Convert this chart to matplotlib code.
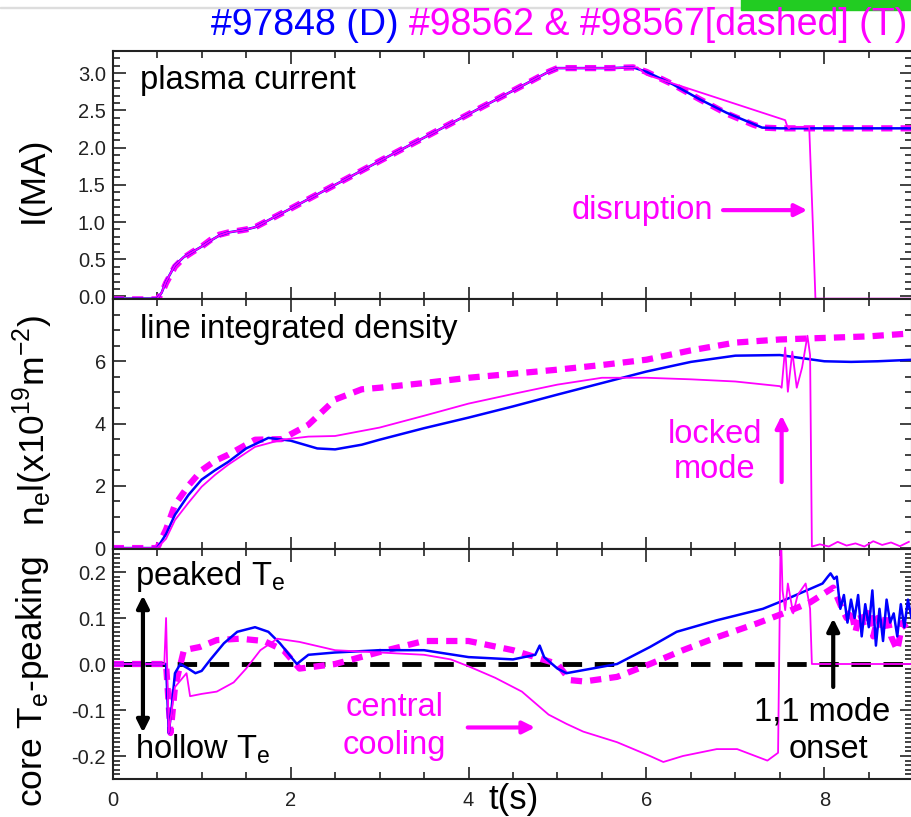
import matplotlib
matplotlib.use('Agg')
import matplotlib.pyplot as plt
from matplotlib.ticker import MultipleLocator
from matplotlib.patches import Rectangle

plt.rcParams['font.family'] = ['Liberation Sans', 'DejaVu Sans']

BLUE = '#0000ff'
MAG = '#ff00ff'

# ---- plasma current I(MA) ----
t_I_D = [0, 0.5, 0.55, 0.6, 0.7, 0.8, 0.9, 1.0, 1.1, 1.2, 1.3, 1.4, 1.5, 1.6, 2.0, 3.0, 4.0,
         4.9, 5.0, 5.3, 5.6, 5.85, 6.0, 6.3, 6.6, 6.9, 7.2, 7.3, 7.5, 8.0, 8.5, 9.0]
I_D = [-0.03, -0.03, 0.05, 0.2, 0.42, 0.53, 0.6, 0.67, 0.75, 0.82, 0.86, 0.88, 0.9, 0.93, 1.18,
       1.82, 2.45, 3.02, 3.07, 3.07, 3.07, 3.08, 3.02, 2.85, 2.65, 2.47, 2.32, 2.27, 2.26, 2.26,
       2.26, 2.26]
t_I_T1 = [0, 0.5, 0.55, 0.6, 0.7, 0.8, 0.9, 1.0, 1.1, 1.2, 1.3, 1.4, 1.5, 1.6, 2.0, 3.0, 4.0,
          4.9, 5.0, 5.3, 5.6, 5.9, 6.0, 7.56, 7.58, 7.6, 7.62, 7.83, 7.87, 7.9, 8.5, 9.0]
I_T1 = [-0.03, -0.03, 0.05, 0.2, 0.42, 0.53, 0.6, 0.67, 0.75, 0.82, 0.86, 0.88, 0.9, 0.93, 1.18,
        1.82, 2.45, 3.02, 3.07, 3.07, 3.07, 3.08, 2.98, 2.37, 2.3, 2.26, 2.28, 2.28, 1.0, -0.03,
        -0.03, -0.03]
t_I_T2 = [0, 0.5, 0.55, 0.6, 0.7, 0.8, 0.9, 1.0, 1.1, 1.2, 1.3, 1.4, 1.5, 1.6, 2.0, 3.0, 4.0,
          4.9, 5.0, 5.3, 5.6, 5.85, 6.0, 6.3, 6.6, 6.9, 7.2, 7.3, 7.5, 8.0, 8.5, 9.0]
I_T2 = [-0.04, -0.04, 0.04, 0.18, 0.4, 0.52, 0.6, 0.67, 0.76, 0.83, 0.86, 0.88, 0.9, 0.93, 1.18,
        1.82, 2.45, 3.02, 3.07, 3.07, 3.07, 3.08, 3.02, 2.85, 2.65, 2.46, 2.31, 2.27, 2.26, 2.26,
        2.26, 2.26]

# ---- line integrated density (1e19 m^-2) ----
t_n_D = [0, 0.5, 0.6, 0.7, 0.85, 1.0, 1.15, 1.3, 1.5, 1.75, 2.0, 2.3, 2.5, 2.8, 3.0, 3.5, 4.0,
         4.5, 5.0, 5.5, 6.0, 6.5, 7.0, 7.5, 7.8, 8.0, 8.3, 8.6, 9.0]
n_D = [0, 0, 0.45, 1.07, 1.7, 2.2, 2.5, 2.77, 3.2, 3.54, 3.45, 3.2, 3.17, 3.32, 3.48, 3.85, 4.19,
       4.55, 4.93, 5.3, 5.67, 5.98, 6.18, 6.2, 6.08, 6.0, 5.98, 6.0, 6.05]
t_n_T1 = [0, 0.5, 0.6, 0.7, 0.85, 1.0, 1.15, 1.3, 1.6, 1.9, 2.2, 2.5, 3.0, 3.5, 4.0, 4.5, 5.0,
          5.5, 6.0, 6.5, 7.0, 7.5, 7.52, 7.56, 7.59, 7.64, 7.69, 7.75, 7.81, 7.84, 7.86, 7.95,
          8.05, 8.15, 8.25, 8.35, 8.45, 8.55, 8.65, 8.75, 8.85, 8.95]
n_T1 = [0, 0, 0.3, 0.9, 1.45, 1.97, 2.35, 2.68, 3.25, 3.48, 3.58, 3.6, 3.87, 4.25, 4.64, 4.95,
        5.25, 5.47, 5.47, 5.42, 5.35, 5.2, 5.15, 6.44, 5.02, 6.31, 5.15, 5.8, 6.82, 6.2, 0.05,
        0.12, 0.05, 0.2, 0.08, 0.15, 0.05, 0.22, 0.1, 0.18, 0.06, 0.2]
t_n_T2 = [0, 0.5, 0.6, 0.7, 0.85, 1.0, 1.15, 1.3, 1.6, 1.9, 2.2, 2.5, 2.8, 3.0, 3.5, 4.0, 4.5,
          5.0, 5.5, 6.0, 6.5, 7.0, 7.5, 8.0, 8.5, 9.0]
n_T2 = [0, 0, 0.6, 1.39, 2.0, 2.5, 2.8, 3.0, 3.48, 3.5, 3.96, 4.77, 5.1, 5.15, 5.3, 5.47, 5.6,
        5.73, 5.88, 6.05, 6.35, 6.6, 6.7, 6.75, 6.8, 6.9]

# ---- core Te peaking ----
t_p_D = [0, 0.6, 0.63, 0.66, 0.7, 0.76, 0.85, 0.93, 1.0, 1.1, 1.25, 1.4, 1.6, 1.75, 1.88, 2.07,
         2.2, 2.5, 3.0, 3.5, 4.0, 4.5, 4.75, 4.8, 4.85, 5.0, 5.1, 5.3, 5.67, 6.04, 6.34, 6.79,
         7.31, 7.54, 7.98, 8.04, 8.07, 8.11, 8.14, 8.18, 8.22, 8.26, 8.3, 8.34, 8.38, 8.42, 8.46,
         8.5, 8.54, 8.58, 8.62, 8.66, 8.7, 8.74, 8.78, 8.82, 8.86, 8.9, 8.94, 8.98]
p_D = [0, 0, -0.15, -0.1, -0.02, 0.0, -0.01, -0.02, -0.015, 0.01, 0.045, 0.07, 0.08, 0.07, 0.045,
       0.0, 0.02, 0.025, 0.03, 0.03, 0.015, 0.01, 0.02, 0.04, 0.015, -0.01, -0.02, -0.013, 0.0,
       0.037, 0.07, 0.095, 0.12, 0.138, 0.175, 0.19, 0.197, 0.185, 0.19, 0.12, 0.15, 0.09, 0.14,
       0.1, 0.15, 0.06, 0.13, 0.08, 0.16, 0.04, 0.12, 0.05, 0.14, 0.09, 0.11, 0.06, 0.13, 0.08,
       0.14, 0.1]
t_p_T1 = [0, 0.58, 0.6, 0.63, 0.7, 0.83, 0.87, 1.0, 1.17, 1.36, 1.5, 1.66, 1.85, 2.1, 2.5, 3.0,
          3.5, 3.8, 4.0, 4.3, 4.6, 4.9, 5.1, 5.29, 5.67, 6.04, 6.19, 6.41, 6.79, 7.02, 7.36, 7.48,
          7.51, 7.53, 7.56, 7.59, 7.65, 7.7, 7.79, 7.84, 7.86, 8.5, 9.0]
p_T1 = [0, 0, 0.1, -0.15, -0.05, -0.02, -0.07, -0.065, -0.06, -0.04, -0.01, 0.03, 0.055, 0.048,
        0.03, 0.025, 0.02, 0.01, -0.005, -0.03, -0.06, -0.11, -0.13, -0.147, -0.17, -0.2, -0.213,
        -0.2, -0.185, -0.185, -0.21, -0.193, 0.3, 0.16, 0.117, 0.175, 0.11, 0.15, 0.175, 0.12,
        0.0, 0.0, 0.0]
t_p_T2 = [0, 0.6, 0.65, 0.7, 0.8, 0.98, 1.17, 1.43, 1.7, 1.92, 2.1, 2.5, 3.0, 3.5, 4.0, 4.5,
          5.0, 5.14, 5.3, 5.67, 6.04, 6.41, 6.79, 7.24, 7.54, 7.84, 8.1, 8.2, 8.25, 8.3, 8.35,
          8.4, 8.45, 8.5, 8.55, 8.6, 8.65, 8.7, 8.75, 8.82, 8.88, 8.95]
p_T2 = [0, 0, -0.15, -0.05, 0.03, 0.037, 0.052, 0.055, 0.05, 0.03, -0.01, 0.0, 0.026, 0.05,
        0.05, 0.03, 0.0, -0.035, -0.038, -0.028, 0.0, 0.03, 0.058, 0.088, 0.11, 0.134, 0.166,
        0.12, 0.1, 0.12, 0.07, 0.11, 0.08, 0.12, 0.06, 0.1, 0.07, 0.11, 0.06, 0.03, 0.09, 0.07]

fig = plt.figure(figsize=(9.12, 8.17), dpi=100)
L, R = 112.7 / 912, 911.5 / 912
W = R - L
def frac(py):
    return 1 - py / 817
ax1 = fig.add_axes([L, frac(299), W, frac(51) - frac(299)])
ax2 = fig.add_axes([L, frac(549), W, frac(299) - frac(549)])
ax3 = fig.add_axes([L, frac(779), W, frac(549) - frac(779)])

for ax in (ax1, ax2, ax3):
    ax.set_xlim(0, 8.98)
    ax.xaxis.set_major_locator(MultipleLocator(2))
    ax.xaxis.set_minor_locator(MultipleLocator(0.5))
    ax.tick_params(which='both', direction='in', top=True, right=True, labelsize=14.5,
                   width=1.2, colors='#222222')
    ax.tick_params(which='major', length=9)
    ax.tick_params(which='minor', length=5)
    ax.tick_params(axis='y', pad=5)
    for s in ax.spines.values():
        s.set_linewidth(1.5)
        s.set_color('#222222')
for ax in (ax1, ax2):
    ax.tick_params(labelbottom=False)
ax3.tick_params(axis='x', pad=9)

dash_thick = (0, (1.8, 1.3))
TXT = 23.5

# top panel
ax1.plot(t_I_T2, I_T2, color=MAG, lw=4.5, ls=dash_thick)
ax1.plot(t_I_D, I_D, color=BLUE, lw=1.8)
ax1.plot(t_I_T1, I_T1, color=MAG, lw=1.3)
ax1.set_ylim(-0.035, 3.3)
ax1.yaxis.set_major_locator(MultipleLocator(0.5))
ax1.yaxis.set_minor_locator(MultipleLocator(0.1))
ax1.yaxis.set_major_formatter(lambda v, p: f'{v:.1f}')
ax1.text(0.31, 2.91, 'plasma current', fontsize=TXT, va='center')
ax1.text(5.95, 1.16, 'disruption', fontsize=TXT, color=MAG, va='center', ha='center')
ax1.annotate('', xy=(7.84, 1.16), xytext=(6.83, 1.16),
             arrowprops=dict(arrowstyle='-|>', color=MAG, lw=3, mutation_scale=18))

# middle panel
ax2.plot(t_n_T2, n_T2, color=MAG, lw=4.5, ls=dash_thick)
ax2.plot(t_n_D, n_D, color=BLUE, lw=1.8)
ax2.plot(t_n_T1, n_T1, color=MAG, lw=1.3)
ax2.set_ylim(-0.03, 8.0)
ax2.yaxis.set_major_locator(MultipleLocator(2))
ax2.yaxis.set_minor_locator(MultipleLocator(0.5))
ax2.set_yticks([0, 2, 4, 6])
ax2.text(0.31, 7.02, 'line integrated density', fontsize=TXT, va='center')
ax2.text(6.77, 3.64, 'locked', fontsize=TXT, color=MAG, va='center', ha='center')
ax2.text(6.77, 2.51, 'mode', fontsize=TXT, color=MAG, va='center', ha='center')
ax2.annotate('', xy=(7.52, 4.35), xytext=(7.52, 2.03),
             arrowprops=dict(arrowstyle='-|>', color=MAG, lw=3, mutation_scale=18))

# bottom panel
ax3.axhline(0, color='black', lw=3.5, ls=(0, (4, 2.6)), zorder=1)
ax3.plot(t_p_T2, p_T2, color=MAG, lw=4.5, ls=dash_thick)
ax3.plot(t_p_D, p_D, color=BLUE, lw=1.8)
ax3.plot(t_p_T1, p_T1, color=MAG, lw=1.3)
ax3.set_ylim(-0.25, 0.25)
ax3.yaxis.set_major_locator(MultipleLocator(0.1))
ax3.yaxis.set_minor_locator(MultipleLocator(0.01))
ax3.yaxis.set_major_formatter(lambda v, p: f'{v:.1f}'.replace('-0.0', '0.0'))
ax3.text(0.25, 0.19, 'peaked T$_\\mathregular{e}$', fontsize=TXT, va='center')
ax3.text(0.25, -0.186, 'hollow T$_\\mathregular{e}$', fontsize=TXT, va='center')
ax3.annotate('', xy=(0.34, 0.155), xytext=(0.34, -0.155),
             arrowprops=dict(arrowstyle='<|-|>', color='black', lw=3, mutation_scale=18))
ax3.text(3.17, -0.095, 'central', fontsize=TXT, color=MAG, va='center', ha='center')
ax3.text(3.17, -0.177, 'cooling', fontsize=TXT, color=MAG, va='center', ha='center')
ax3.annotate('', xy=(4.78, -0.138), xytext=(3.96, -0.138),
             arrowprops=dict(arrowstyle='-|>', color=MAG, lw=3, mutation_scale=18))
ax3.text(7.98, -0.104, '1,1 mode', fontsize=TXT, va='center', ha='center')
ax3.text(8.05, -0.186, 'onset', fontsize=TXT, va='center', ha='center')
ax3.annotate('', xy=(8.1, 0.105), xytext=(8.1, -0.056),
             arrowprops=dict(arrowstyle='-|>', color='black', lw=3, mutation_scale=18))
ax3.text(4.22, -0.294, 't(s)', fontsize=25, ha='left', va='center')

# y labels
YL = 25.5
fig.text(33 / 912, frac(180), 'I(MA)', rotation=90, fontsize=YL, ha='center', va='center')
fig.text(33 / 912, frac(420), 'n$_\\mathregular{e}$l(x10$^\\mathregular{19}$m$^\\mathregular{-2}$)',
         rotation=90, fontsize=YL, ha='center', va='center')
fig.text(33 / 912, frac(682), 'core T$_\\mathregular{e}$-peaking', rotation=90, fontsize=YL,
         ha='center', va='center')

# title in two colours
tm = fig.text(907 / 912, frac(25), '#98562 & #98567[dashed] (T)', color=MAG, fontsize=27,
              ha='right', va='center')
ax1.annotate('#97848 (D) ', xy=(0, 0.5), xycoords=tm, color=BLUE, fontsize=27,
             ha='right', va='center', annotation_clip=False)

# screenshot decorations
fig.patches.append(Rectangle((0, frac(8)), 1, 0.0015, transform=fig.transFigure,
                             color='#dddddd', figure=fig))
fig.patches.append(Rectangle((741 / 912, frac(10)), 1, 0.02, transform=fig.transFigure,
                             color='#22cc22', figure=fig))

fig.savefig('out.png', dpi=100)
